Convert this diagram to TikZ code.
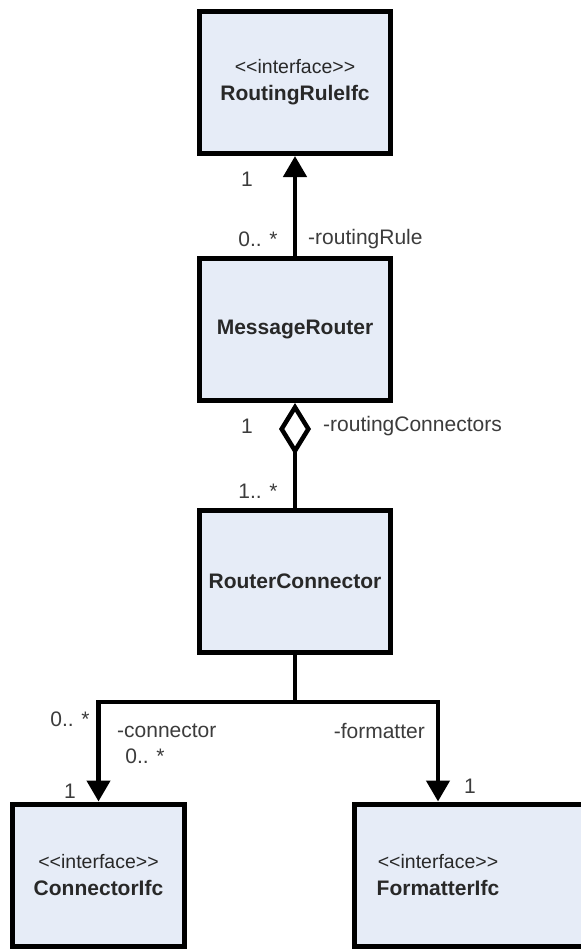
\documentclass[tikz,border=0pt]{standalone}
\usepackage{fontspec}
\setmainfont{Liberation Sans}
\usetikzlibrary{arrows.meta}
\definecolor{boxfill}{RGB}{230,236,247}
\definecolor{txt}{RGB}{40,40,40}
\definecolor{lbl}{RGB}{60,60,60}
\newcommand{\stereotxt}{\fontsize{19.5}{23}\selectfont\mdseries {<}{<}interface{>}{>}}
\tikzset{
  cls/.style={draw=black, line width=5pt, fill=boxfill, minimum width=191pt, minimum height=142pt, inner sep=0pt, text=txt, align=center, font=\fontsize{21}{25}\selectfont\bfseries},
  ifc/.style={cls, minimum width=172pt},
  conn/.style={draw=black, line width=4.5pt},
  nav/.style={conn, -{Triangle[width=23pt,length=21pt]}},
  agg/.style={conn, {Diamond[open,width=32pt,length=52pt,line width=4.5pt]}-},
  lab/.style={text=lbl, inner sep=0pt, font=\fontsize{21}{25}\selectfont},
}
\begin{document}
\begin{tikzpicture}[x=1pt,y=-1pt]
\useasboundingbox (0,0) rectangle (581,951);
\clip (0,0) rectangle (581,951);
\fill[white] (0,0) rectangle (581,951);
% classes
\node[cls] (rr) at (295,82.5) {{\stereotxt}\\[2pt]RoutingRuleIfc};
\node[cls] (mr) at (295,329.5) {MessageRouter};
\node[cls] (rc) at (295,581.5) {RouterConnector};
\node[ifc] (ci) at (98.5,875) {{\stereotxt}\\[2pt]ConnectorIfc};
\node[cls, minimum width=260pt] (fbox) at (484.5,875) {};
\node[inner sep=0pt, text=txt, align=center, font=\fontsize{21}{25}\selectfont\bfseries] (ftext) at (438,875) {{\stereotxt}\\[2pt]FormatterIfc};
% connectors
\draw[nav] (mr.north) -- (rr.south);
\draw[agg] (mr.south) -- (rc.north);
\coordinate (j) at (295,702);
\draw[nav] (rc.south) -- (j) -| (ci.north);
\draw[nav] (j) -| (ftext |- fbox.north);
% labels
\node[lab] (l1) at (247,179) {1};
\node[lab] (l2) at (258,239) {0.. *};
\node[lab, anchor=west] (l3) at (308,239) {-routingRule};
\node[lab] (l4) at (247,426) {1};
\node[lab, anchor=west] (l5) at (323,426) {-routingConnectors};
\node[lab] (l6) at (258,491) {1.. *};
\node[lab] (l7) at (70,719) {0.. *};
\node[lab, anchor=west] (l8) at (117,731) {-connector};
\node[lab] (l9) at (145,756) {0.. *};
\node[lab] (l10) at (70,791) {1};
\node[lab, anchor=east] (l11) at (425,731) {-formatter};
\node[lab] (l12) at (470,786) {1};
\end{tikzpicture}
\end{document}
